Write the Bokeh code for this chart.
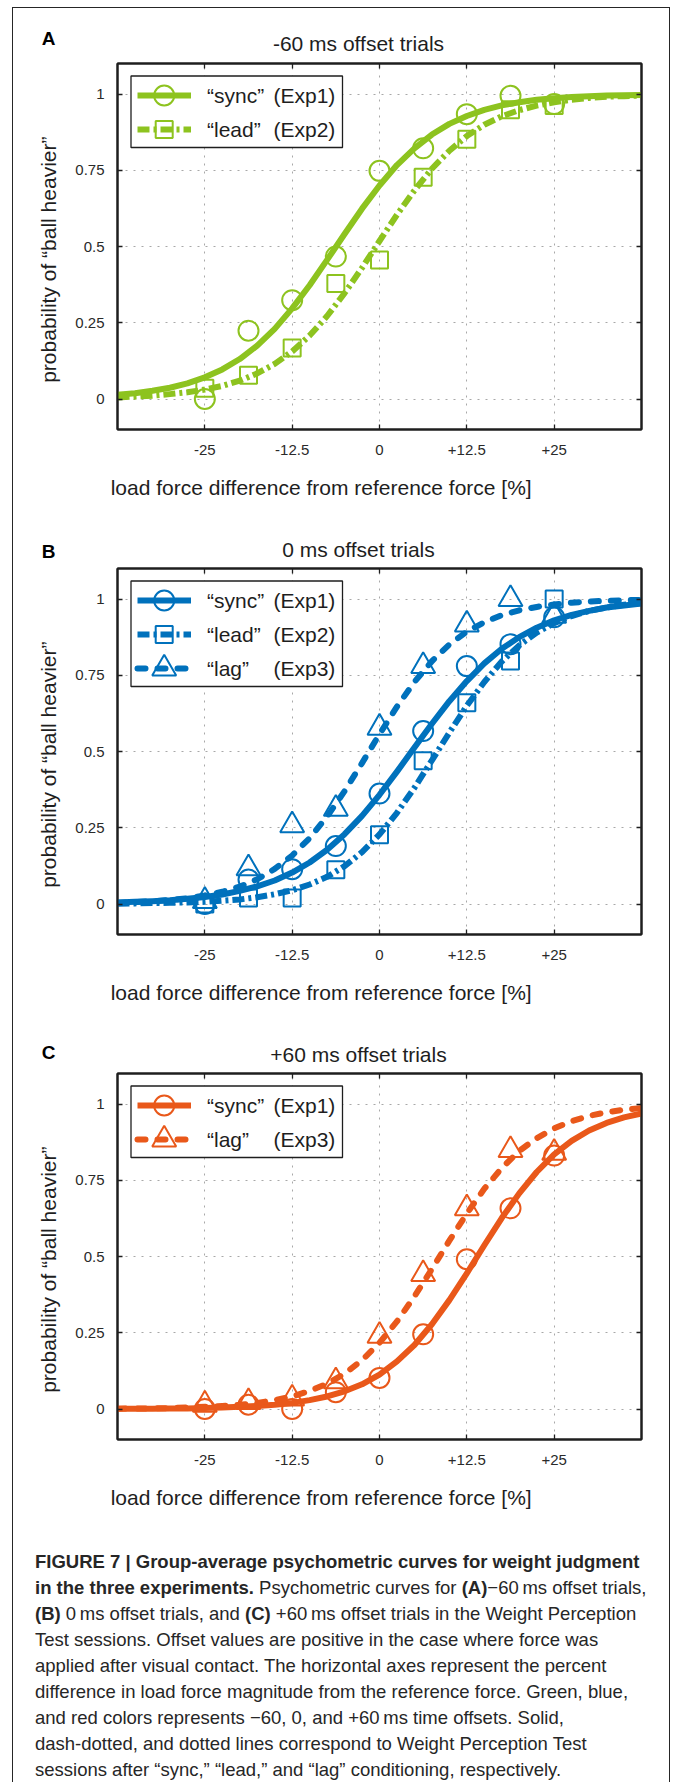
from math import pi

from bokeh.embed import file_html
from bokeh.layouts import column, row
from bokeh.models import BoxAnnotation, Div, FixedTicker, Label, LinearAxis, Range1d
from bokeh.plotting import figure
from bokeh.resources import INLINE

# ---------------------------------------------------------------- data
# load-force levels tested (percent difference from the reference force)
x_levels = [-25, -18.75, -12.5, -6.25, 0, 6.25, 12.5, 18.75, 25]

# x positions at which the fitted psychometric curves are sampled
curve_x = [-37.5, -35, -32.5, -30, -27.5, -25, -22.5, -20, -17.5, -15, -12.5,
           -10, -7.5, -5, -2.5, 0, 2.5, 5, 7.5, 10, 12.5, 15, 17.5, 20, 22.5,
           25, 27.5, 30, 32.5, 35, 37.5]

# panel A: -60 ms offset trials
a_sync_pts = [0.000, 0.224, 0.324, 0.467, 0.748, 0.822, 0.934, 0.994, 0.967]
a_lead_pts = [0.035, 0.078, 0.167, 0.379, 0.456, 0.727, 0.852, 0.948, 0.962]
a_sync_fit = [0.014, 0.019, 0.027, 0.037, 0.051, 0.071, 0.097, 0.131, 0.175, 0.230,
              0.297, 0.373, 0.456, 0.541, 0.624, 0.700, 0.767, 0.822, 0.867, 0.902,
              0.928, 0.948, 0.963, 0.973, 0.981, 0.986, 0.990, 0.993, 0.995, 0.996, 0.997]
a_lead_fit = [0.005, 0.008, 0.011, 0.016, 0.022, 0.031, 0.043, 0.060, 0.084, 0.115,
              0.156, 0.208, 0.272, 0.347, 0.430, 0.518, 0.604, 0.684, 0.755, 0.814,
              0.862, 0.899, 0.927, 0.947, 0.962, 0.973, 0.981, 0.987, 0.991, 0.993, 0.995]

# panel B: 0 ms offset trials
b_sync_pts = [0.000, 0.080, 0.114, 0.190, 0.362, 0.567, 0.780, 0.852, 0.940]
b_lead_pts = [0.000, 0.020, 0.020, 0.112, 0.227, 0.470, 0.660, 0.797, 1.000]
b_lag_pts = [0.010, 0.117, 0.258, 0.312, 0.578, 0.780, 0.916, 1.000, 0.945]
b_sync_fit = [0.005, 0.007, 0.009, 0.012, 0.017, 0.023, 0.031, 0.043, 0.058, 0.077,
              0.103, 0.136, 0.178, 0.229, 0.289, 0.358, 0.434, 0.513, 0.591, 0.665,
              0.731, 0.789, 0.837, 0.875, 0.906, 0.930, 0.948, 0.961, 0.972, 0.979, 0.985]
b_lead_fit = [0.001, 0.002, 0.003, 0.004, 0.005, 0.007, 0.011, 0.015, 0.022, 0.032,
              0.045, 0.064, 0.089, 0.124, 0.170, 0.228, 0.299, 0.381, 0.471, 0.562,
              0.650, 0.728, 0.795, 0.848, 0.890, 0.921, 0.944, 0.961, 0.972, 0.981, 0.987]
b_lag_fit = [0.004, 0.006, 0.009, 0.013, 0.019, 0.028, 0.040, 0.057, 0.081, 0.115,
             0.159, 0.216, 0.287, 0.370, 0.462, 0.557, 0.647, 0.728, 0.796, 0.851,
             0.893, 0.924, 0.947, 0.963, 0.974, 0.982, 0.988, 0.992, 0.994, 0.996, 0.997]

# panel C: +60 ms offset trials
c_sync_pts = [0.000, 0.014, 0.000, 0.055, 0.102, 0.245, 0.491, 0.658, 0.831]
c_lag_pts = [0.014, 0.023, 0.034, 0.091, 0.240, 0.442, 0.658, 0.849, 0.840]
c_sync_fit = [0.001, 0.001, 0.001, 0.002, 0.002, 0.003, 0.005, 0.007, 0.010, 0.014,
              0.020, 0.029, 0.041, 0.058, 0.081, 0.113, 0.156, 0.210, 0.278, 0.357,
              0.445, 0.537, 0.626, 0.707, 0.777, 0.835, 0.879, 0.913, 0.938, 0.956, 0.969]
c_lag_fit = [0.001, 0.002, 0.002, 0.003, 0.005, 0.007, 0.010, 0.014, 0.020, 0.029,
             0.041, 0.059, 0.083, 0.116, 0.160, 0.217, 0.287, 0.369, 0.459, 0.552,
             0.641, 0.722, 0.790, 0.846, 0.888, 0.920, 0.944, 0.961, 0.973, 0.981, 0.987]

# axis ticks
x_ticks = [-25, -12.5, 0, 12.5, 25]
x_tick_labels = ["-25", "-12.5", "0", "+12.5", "+25"]
y_ticks = [0, 0.25, 0.5, 0.75, 1]
y_tick_labels = ["0", "0.25", "0.5", "0.75", "1"]

# ---------------------------------------------------------------- styles
FONT = "Liberation Sans"
INK = "#1e1e1e"
GREEN = "#8dc31f"
BLUE = "#0071bc"
ORANGE = "#e9581a"
CURVE_W = 6

# one panel = header strip + (y-label strip | plot) + x-label strip
W, H = 675, 505
HEAD_H = 58            # strip holding the panel letter and title
YL_W = 62              # strip holding the rotated y-axis title
ML, MR = 117, 34       # frame offsets from the page's left / right edge
TOP_GAP, BOT_GAP = 5, 40
FH = 366
MAIN_H = TOP_GAP + FH + BOT_GAP
XL_H = H - HEAD_H - MAIN_H
FW = W - ML - MR

COND_STYLE = {
    "sync": dict(marker="circle", size=20, dash="solid", cap="butt",
                 name="\u201csync\u201d", exp="(Exp1)"),
    "lead": dict(marker="square", size=17, dash="12 4 3 4", cap="butt",
                 name="\u201clead\u201d", exp="(Exp2)"),
    "lag": dict(marker="triangle", size=24, dash="8 12", cap="round",
                name="\u201clag\u201d", exp="(Exp3)"),
}

# legend layout, in frame pixels (origin at the frame's bottom-left)
LEG_LEFT, LEG_RIGHT = 13.5, 225.0
LEG_TOP_GAP, ROW0, ROW_STEP, ROW_TAIL = 12.5, 32.0, 34.0, 18.0
SAMPLE_X0, SAMPLE_X1, SAMPLE_MID = 20.0, 73.5, 46.7
NAME_X, EXP_X = 89.5, 156.0


def add_text(p, x, y, text, size="21px", color=INK, align="center", units="data", **kw):
    lab = Label(x=x, y=y, x_units=units, y_units=units, text=text,
                text_font=FONT, text_font_size=size, text_color=color,
                text_align=align, text_baseline="middle", **kw)
    p.add_layout(lab)
    return lab


def text_strip(width, height):
    """A bare figure whose whole canvas is a pixel-scaled frame, used for titles."""
    s = figure(width=width, height=height, x_range=Range1d(0, width), y_range=Range1d(0, height),
               output_backend="svg", toolbar_location=None, min_border=0,
               x_axis_location=None, y_axis_location=None)
    s.grid.visible = False
    s.outline_line_color = None
    s.background_fill_color = None
    s.border_fill_color = None
    return s


def make_plot(color, conditions):
    p = figure(width=W - YL_W, height=MAIN_H, x_range=Range1d(-37.5, 37.5),
               y_range=Range1d(-0.1, 1.1), output_backend="svg", toolbar_location=None,
               min_border_left=ML - YL_W, min_border_right=MR,
               min_border_top=TOP_GAP, min_border_bottom=BOT_GAP)
    p.extra_x_ranges = {"px": Range1d(0, FW)}
    p.extra_y_ranges = {"py": Range1d(0, FH)}
    p.border_fill_color = None
    p.background_fill_color = "white"
    p.outline_line_color = INK
    p.outline_line_width = 2

    # boxed axes with inward ticks on all four sides
    bottom_axis = p.below[0]
    left_axis = p.left[0]
    top_axis = LinearAxis()
    right_axis = LinearAxis()
    p.add_layout(top_axis, "above")
    p.add_layout(right_axis, "right")
    for ax, ticks in ((bottom_axis, x_ticks), (top_axis, x_ticks),
                      (left_axis, y_ticks), (right_axis, y_ticks)):
        ax.ticker = FixedTicker(ticks=ticks)
        ax.axis_line_color = INK
        ax.axis_line_width = 2
        ax.major_tick_in = 5
        ax.major_tick_out = 0
        ax.major_tick_line_color = INK
        ax.major_tick_line_width = 1.3
        ax.minor_tick_line_color = None
        ax.major_label_text_font = FONT
        ax.major_label_text_font_size = "15px"
        ax.major_label_text_color = "#2a2a2a"
    bottom_axis.major_label_overrides = dict(zip(x_ticks, x_tick_labels))
    left_axis.major_label_overrides = dict(zip(y_ticks, y_tick_labels))
    bottom_axis.major_label_standoff = 15
    left_axis.major_label_standoff = 13
    for ax in (top_axis, right_axis):
        ax.major_label_text_color = None
        ax.major_label_text_font_size = "1px"
        ax.major_label_standoff = 0

    p.xgrid.ticker = FixedTicker(ticks=x_ticks)
    p.ygrid.ticker = FixedTicker(ticks=y_ticks)
    for g in (p.xgrid[0], p.ygrid[0]):
        g.grid_line_color = "#a8a8a8"
        g.grid_line_dash = "2 6"
        g.grid_line_width = 1

    # data markers and fitted curves (curves drawn on top)
    for key, pts, fit in conditions:
        st = COND_STYLE[key]
        p.scatter(x_levels, pts, marker=st["marker"], size=st["size"],
                  fill_color=None, line_color=color, line_width=2)
    for key, pts, fit in conditions:
        st = COND_STYLE[key]
        p.line(curve_x, fit, line_color=color, line_width=CURVE_W,
               line_dash=st["dash"], line_cap=st["cap"], line_join="round")

    # legend box with line/marker samples
    n = len(conditions)
    box_top = FH - LEG_TOP_GAP
    box_bottom = FH - (ROW0 + (n - 1) * ROW_STEP + ROW_TAIL)
    p.add_layout(BoxAnnotation(left=LEG_LEFT, right=LEG_RIGHT, top=box_top, bottom=box_bottom,
                               x_range_name="px", y_range_name="py",
                               fill_color="white", fill_alpha=1.0,
                               line_color=INK, line_width=1.3, line_alpha=1.0))
    for i, (key, pts, fit) in enumerate(conditions):
        st = COND_STYLE[key]
        row_y = FH - (ROW0 + i * ROW_STEP)
        p.scatter([SAMPLE_MID], [row_y], marker=st["marker"], size=st["size"],
                  fill_color=None, line_color=color, line_width=2,
                  x_range_name="px", y_range_name="py", level="overlay")
        p.line([SAMPLE_X0, SAMPLE_X1], [row_y, row_y], line_color=color, line_width=CURVE_W,
               line_dash=st["dash"], line_cap=st["cap"],
               x_range_name="px", y_range_name="py", level="overlay")
        add_text(p, NAME_X, row_y, st["name"], align="left", units="screen", level="overlay")
        add_text(p, EXP_X, row_y, st["exp"], align="left", units="screen", level="overlay")
    return p


def make_panel(letter, letter_y, title, title_y, color, conditions):
    # letter_y / title_y: distance of the text centre from the panel top
    header = text_strip(W, HEAD_H)
    add_text(header, 48, HEAD_H - letter_y, letter, size="19px", color="#000000",
             text_font_style="bold")
    add_text(header, 358, HEAD_H - title_y, title)

    ylab = text_strip(YL_W, MAIN_H)
    add_text(ylab, 48, MAIN_H - (278.3 - HEAD_H), "probability of \u201cball heavier\u201d",
             angle=pi / 2)

    xlab = text_strip(W, XL_H)
    add_text(xlab, 320.7, XL_H - (487.0 - HEAD_H - MAIN_H),
             "load force difference from reference force [%]")

    return column(header, row(ylab, make_plot(color, conditions)), xlab)


panel_a = make_panel("A", 38.3, "-60 ms offset trials", 42.7, GREEN,
                     [("sync", a_sync_pts, a_sync_fit), ("lead", a_lead_pts, a_lead_fit)])
panel_b = make_panel("B", 45.7, "0 ms offset trials", 44.3, BLUE,
                     [("sync", b_sync_pts, b_sync_fit), ("lead", b_lead_pts, b_lead_fit),
                      ("lag", b_lag_pts, b_lag_fit)])
panel_c = make_panel("C", 41.7, "+60 ms offset trials", 44.3, ORANGE,
                     [("sync", c_sync_pts, c_sync_fit), ("lag", c_lag_pts, c_lag_fit)])

caption_lines = [
    "<b>FIGURE 7 | Group-average psychometric curves for weight judgment</b>",
    "<b>in the three experiments.</b> Psychometric curves for <b>(A)</b>\u221260\u2009ms offset trials,",
    "<b>(B)</b> 0\u2009ms offset trials, and <b>(C)</b> +60\u2009ms offset trials in the Weight Perception",
    "Test sessions. Offset values are positive in the case where force was",
    "applied after visual contact. The horizontal axes represent the percent",
    "difference in load force magnitude from the reference force. Green, blue,",
    "and red colors represents \u221260, 0, and +60\u2009ms time offsets. Solid,",
    "dash-dotted, and dotted lines correspond to Weight Perception Test",
    "sessions after \u201csync,\u201d \u201clead,\u201d and \u201clag\u201d conditioning, respectively.",
]
caption = Div(
    text=("<div style=\"padding:29px 0 0 30px; font-family:'Liberation Sans'; "
          "font-size:18.5px; line-height:26px; color:#262626; white-space:nowrap;\">"
          + "<br>".join(caption_lines) + "</div>"),
    width=W, height=1782 - 3 * H,
)

# thin frame around the whole figure (left, right and top rules)
frame_css = {
    "background-color": "white",
    "background-image": ("linear-gradient(#262626,#262626), linear-gradient(#262626,#262626), "
                         "linear-gradient(#262626,#262626)"),
    "background-size": "1px 1800px, 1px 1800px, 658px 1px",
    "background-position": "12px 7px, 669px 7px, 12px 7px",
    "background-repeat": "no-repeat",
}
page = column(panel_a, panel_b, panel_c, caption, styles=frame_css)

open("out.html", "w").write(file_html(page, INLINE))
